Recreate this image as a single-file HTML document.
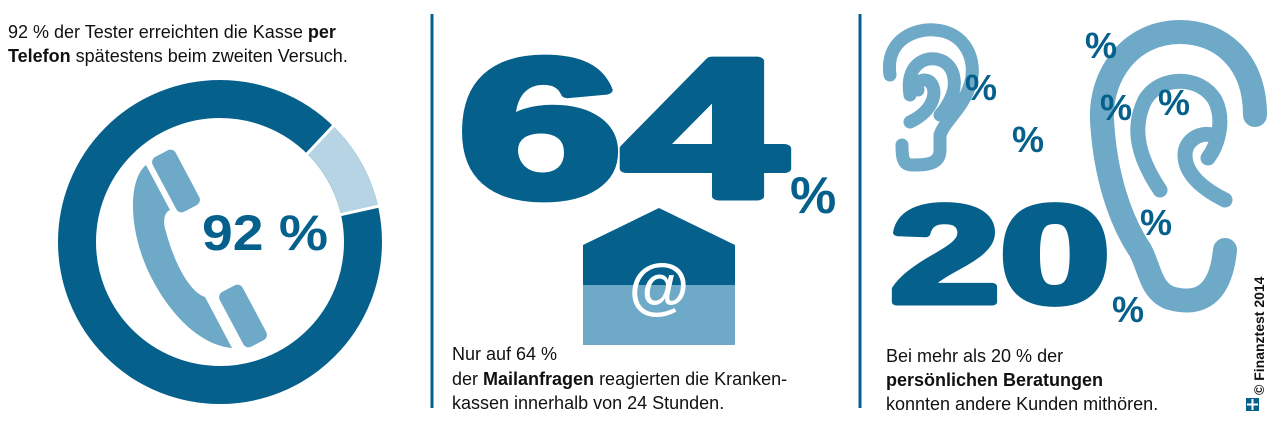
<!DOCTYPE html>
<html><head><style>
body{margin:0;background:#fff;}
svg{display:block;font-family:"Liberation Sans",Arial,sans-serif;}
</style></head><body>
<svg width="1280" height="437" viewBox="0 0 1280 437">
<text x="8" y="38" font-size="18" fill="#111">92 % der Tester erreichten die Kasse <tspan font-weight="bold">per</tspan></text>
<text x="8" y="62" font-size="18" fill="#111"><tspan font-weight="bold">Telefon</tspan> spätestens beim zweiten Versuch.</text>
<circle cx="220" cy="242" r="143" fill="none" stroke="#05608c" stroke-width="38"/>
<path d="M320.2,140 A143,143 0 0 1 359.5,210.6" fill="none" stroke="#b6d4e3" stroke-width="38"/>
<line x1="305" y1="156" x2="336" y2="123" stroke="#fff" stroke-width="3"/>
<line x1="339" y1="215" x2="384" y2="205" stroke="#fff" stroke-width="3"/>
<g fill="#6ea9c7">
<path d="M146,165 C128,180 128,230 150,275 C170,315 200,345 232,348 L205,297 C190,292 175,265 166,232 C162,220 165,212 170,210 Z"/>
<rect x="163" y="150" width="26" height="62" rx="6" transform="rotate(-28 176 181)"/>
<rect x="230" y="285" width="26" height="62" rx="6" transform="rotate(-28 243 316)"/>
</g>
<text x="202" y="250" font-size="50" font-weight="bold" fill="#05608c" textLength="126" lengthAdjust="spacingAndGlyphs">92 %</text>
<line x1="432" y1="14" x2="432" y2="408" stroke="#05608c" stroke-width="3"/>
<line x1="860" y1="14" x2="860" y2="408" stroke="#05608c" stroke-width="3"/>
<text x="458" y="196" font-size="196" font-weight="bold" fill="#05608c" stroke="#05608c" stroke-width="9" stroke-linejoin="round" textLength="328" lengthAdjust="spacingAndGlyphs">64</text>
<text x="790" y="213" font-size="52" font-weight="bold" fill="#05608c">%</text>
<path d="M583,245 L659,208 L735,245 L735,285 L583,285 Z" fill="#05608c"/>
<rect x="583" y="285" width="152" height="60" fill="#6ea9c7"/>
<text x="659" y="307" font-size="62" font-weight="bold" fill="#fff" text-anchor="middle">@</text>
<text x="452" y="360" font-size="18" fill="#111">Nur auf 64 %</text>
<text x="452" y="385" font-size="18" fill="#111">der <tspan font-weight="bold">Mailanfragen</tspan> reagierten die Kranken-</text>
<text x="452" y="409" font-size="18" fill="#111">kassen innerhalb von 24 Stunden.</text>
<g fill="none" stroke="#6ea9c7" stroke-linecap="round">
<g stroke-width="13">
<path d="M890,75 C885,40 915,28 935,30 C965,32 978,60 970,85 C962,110 945,120 940,135 L940,150 C940,165 925,165 912,165 C902,165 902,155 902,145"/>
<path d="M910,95 C905,65 925,55 940,60 C955,65 958,85 950,100 C945,110 942,112 940,115"/>
<path d="M918,90 C915,80 925,78 930,82 C938,90 935,110 910,122"/>
</g>
<g stroke-width="24">
<path d="M1255,115 C1255,60 1220,32 1180,32 C1130,32 1100,75 1102,120 C1105,175 1120,220 1140,250 C1150,268 1150,290 1170,298 C1195,305 1220,300 1225,250"/>
</g>
<g stroke-width="15">
<path d="M1160,190 C1140,160 1130,130 1145,100 C1160,75 1200,75 1215,100 C1225,120 1218,145 1208,158"/>
<path d="M1225,200 C1205,190 1185,175 1185,155 C1185,140 1200,132 1212,135"/>
</g>
</g>
<g font-size="36" font-weight="bold" fill="#05608c">
<text x="965" y="100">%</text>
<text x="1012" y="152">%</text>
<text x="1085" y="58">%</text>
<text x="1100" y="120">%</text>
<text x="1158" y="115">%</text>
<text x="1140" y="235">%</text>
<text x="1112" y="322">%</text>
</g>
<text x="890" y="302" font-size="138" font-weight="bold" fill="#05608c" stroke="#05608c" stroke-width="7" stroke-linejoin="round" textLength="220" lengthAdjust="spacingAndGlyphs">20</text>
<text x="886" y="362" font-size="18" fill="#111">Bei mehr als 20 % der</text>
<text x="886" y="386" font-size="18" font-weight="bold" fill="#111">persönlichen Beratungen</text>
<text x="886" y="410" font-size="18" fill="#111">konnten andere Kunden mithören.</text>
<text transform="translate(1264,395) rotate(-90)" font-size="14" font-weight="bold" fill="#111">© Finanztest 2014</text>
<rect x="1246" y="398" width="13" height="13" fill="#05608c"/>
<line x1="1252.5" y1="399" x2="1252.5" y2="410" stroke="#fff" stroke-width="2"/>
<line x1="1247" y1="404.5" x2="1258" y2="404.5" stroke="#fff" stroke-width="2"/>
</svg>
</body></html>
